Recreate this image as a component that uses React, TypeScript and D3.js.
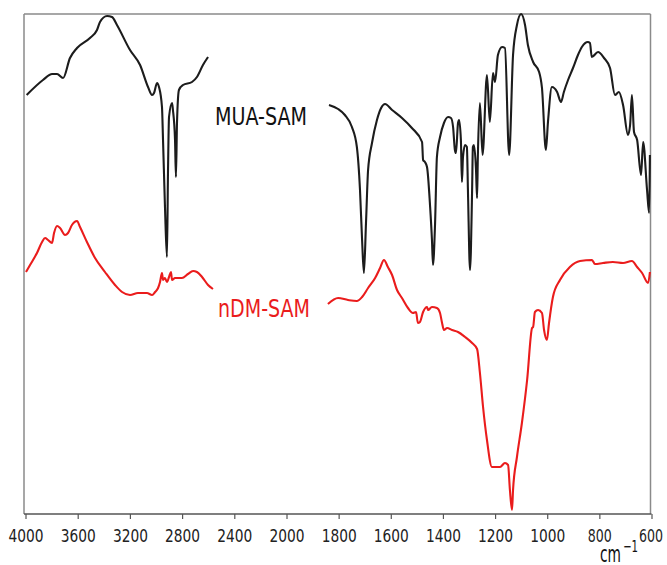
import React from "react";
import * as d3 from "d3";

// wavenumber (cm-1), transmittance (arb. %)
const muaHigh: [number, number][] = [
  [3995, 83.8], [3870, 86.8], [3800, 88.0], [3762, 88.0], [3716, 87.2], [3663, 91.2],
  [3609, 93.2], [3510, 95.2], [3456, 96.8], [3433, 98.4], [3379, 99.6], [3341, 99.4],
  [3303, 97.8], [3203, 92.8], [3126, 89.8], [3065, 85.4], [3034, 83.8], [3019, 84.2],
  [2996, 86.2], [2981, 85.4], [2958, 81.4], [2950, 74.8], [2935, 61.4], [2920, 51.4],
  [2912, 68.2], [2904, 79.4], [2881, 82.2], [2874, 80.8], [2858, 74.8], [2851, 67.4],
  [2843, 78.2], [2828, 84.8], [2797, 85.8], [2728, 86.4], [2690, 87.4], [2644, 89.8],
  [2605, 91.4],
];

const muaLow: [number, number][] = [
  [1839, 81.8], [1804, 81.0], [1778, 79.8], [1751, 77.4], [1732, 73.4], [1720, 64.8],
  [1712, 54.8], [1705, 48.2], [1697, 58.2], [1689, 68.8], [1674, 74.2], [1655, 78.8],
  [1639, 81.2], [1624, 82.0], [1597, 80.8], [1559, 79.2], [1521, 77.2], [1482, 74.4],
  [1478, 70.8], [1471, 70.4], [1463, 69.4], [1451, 61.4], [1444, 54.8], [1440, 49.8],
  [1432, 58.2], [1425, 71.4], [1413, 75.4], [1398, 78.2], [1382, 79.4], [1371, 79.2],
  [1363, 77.4], [1356, 72.8], [1352, 72.2], [1344, 78.2], [1340, 78.8], [1333, 74.8],
  [1329, 66.4], [1325, 71.4], [1317, 73.8], [1310, 73.4], [1306, 64.8], [1298, 48.8],
  [1290, 64.8], [1287, 73.4], [1283, 73.8], [1275, 68.8], [1271, 63.2], [1268, 71.4],
  [1260, 82.2], [1250, 71.8], [1233, 87.8], [1222, 78.4], [1210, 88.2], [1202, 86.4],
  [1191, 91.8], [1175, 93.4], [1164, 93.2], [1148, 71.8], [1133, 91.8], [1118, 97.8],
  [1102, 100.0], [1087, 97.8], [1076, 93.8], [1056, 90.4], [1033, 88.4], [1022, 85.2],
  [1007, 72.8], [999, 78.4], [984, 85.4], [964, 84.4], [949, 82.4], [938, 84.4],
  [922, 86.8], [903, 89.2], [884, 91.8], [869, 93.4], [846, 94.4], [838, 94.2],
  [831, 91.4], [807, 92.4], [784, 91.2], [761, 89.2], [742, 83.8], [727, 84.4],
  [711, 81.8], [692, 75.8], [684, 77.8], [677, 83.8], [669, 76.4], [657, 74.8],
  [642, 67.8], [634, 74.4], [619, 64.8], [611, 60.2], [608, 71.8],
];

const ndmHigh: [number, number][] = [
  [4000, 48.4], [3969, 49.8], [3916, 52.2], [3877, 54.4], [3854, 55.2], [3831, 54.8],
  [3801, 54.2], [3785, 56.2], [3762, 57.6], [3739, 57.2], [3701, 55.8], [3678, 56.2],
  [3648, 57.8], [3609, 58.6], [3586, 57.4], [3533, 54.4], [3471, 51.2], [3395, 48.4],
  [3318, 45.8], [3264, 44.4], [3203, 43.8], [3142, 44.2], [3073, 44.2], [3034, 43.8],
  [3011, 44.4], [2988, 45.2], [2973, 46.4], [2958, 48.2], [2950, 46.8], [2935, 47.2],
  [2920, 46.4], [2904, 47.4], [2889, 48.4], [2881, 46.8], [2858, 47.2], [2805, 47.2],
  [2759, 48.0], [2720, 48.6], [2690, 48.4], [2651, 47.4], [2605, 45.8], [2567, 45.0],
];

const ndmLow: [number, number][] = [
  [1843, 42.0], [1804, 43.2], [1766, 42.8], [1732, 42.6], [1712, 43.4], [1689, 45.2],
  [1662, 47.2], [1643, 49.2], [1628, 50.8], [1613, 49.4], [1597, 47.8], [1578, 44.8],
  [1559, 43.2], [1536, 41.2], [1517, 40.2], [1505, 40.4], [1498, 38.2], [1490, 38.4],
  [1478, 40.4], [1463, 41.4], [1459, 40.8], [1444, 41.4], [1425, 41.2], [1413, 40.2],
  [1406, 38.4], [1398, 36.8], [1386, 37.2], [1367, 36.8], [1344, 36.4], [1317, 35.4],
  [1290, 34.2], [1271, 33.0], [1260, 28.2], [1248, 21.4], [1233, 14.8], [1214, 9.4],
  [1183, 9.4], [1164, 10.2], [1152, 9.8], [1145, 4.8], [1137, 0.8], [1133, 4.8],
  [1118, 11.4], [1099, 18.2], [1079, 26.8], [1060, 37.2], [1056, 37.4], [1049, 40.4],
  [1037, 40.8], [1022, 40.2], [1014, 36.8], [1003, 34.8], [995, 38.2], [980, 43.4],
  [953, 46.8], [915, 49.4], [876, 50.6], [830, 50.8], [819, 50.0], [788, 50.2],
  [750, 50.4], [711, 50.2], [677, 50.6], [657, 49.4], [638, 48.2], [615, 46.2],
  [608, 48.4],
];

const xTicks = [4000, 3600, 3200, 2800, 2400, 2000, 1800, 1600, 1400, 1200, 1000, 800, 600];
const seriesNames = ["MUA-SAM", "nDM-SAM"];
const unitLabel = "cm";
const unitExp = "−1";

export default function App() {
  const W = 667, H = 565;
  const left = 24, right = 650.5, top = 14, bottom = 514;
  const x = d3.scaleLinear().domain([4000, 2000, 600]).range([26, 287, 652]);
  const y = d3.scaleLinear().domain([0, 100]).range([514, 14]);
  const line = d3
    .line<[number, number]>()
    .x((d) => x(d[0]))
    .y((d) => y(d[1]))
    .curve(d3.curveMonotoneX);
  const font = "'Liberation Sans Narrow', 'DejaVu Sans Condensed', 'Liberation Sans', Arial, sans-serif";
  const black = "#1c1c1c";
  const red = "#ea1c1c";
  return (
    <svg width={W} height={H} style={{ position: "absolute", left: 0, top: 0, background: "#fff" }}>
      <rect x={0} y={0} width={W} height={H} fill="#fff" />
      {/* frame */}
      <line x1={left} y1={top} x2={right} y2={top} stroke="#8a8a8a" strokeWidth={1.5} />
      <line x1={left} y1={top} x2={left} y2={bottom} stroke="#8a8a8a" strokeWidth={1.5} />
      <line x1={right} y1={top} x2={right} y2={bottom} stroke="#8a8a8a" strokeWidth={1.5} />
      <line x1={left} y1={bottom} x2={right + 1} y2={bottom} stroke="#555" strokeWidth={1.5} />
      {xTicks.map((t) => (
        <g key={t}>
          <line x1={x(t)} y1={bottom} x2={x(t)} y2={bottom + 5} stroke="#555" strokeWidth={1.2} />
          <text
            x={t === 600 ? x(t) - 1 : x(t)}
            y={542}
            textAnchor="middle"
            fontFamily={font}
            fontSize={18}
            fill="#222"
            textLength={t >= 1000 ? 35 : 24}
            lengthAdjust="spacingAndGlyphs"
          >
            {t}
          </text>
        </g>
      ))}
      {/* curves */}
      <path d={line(muaHigh) || ""} fill="none" stroke={black} strokeWidth={2.1} strokeLinejoin="round" />
      <path d={line(muaLow) || ""} fill="none" stroke={black} strokeWidth={2.1} strokeLinejoin="round" />
      <path d={line(ndmHigh) || ""} fill="none" stroke={red} strokeWidth={2.1} strokeLinejoin="round" />
      <path d={line(ndmLow) || ""} fill="none" stroke={red} strokeWidth={2.1} strokeLinejoin="round" />
      {/* labels */}
      <text x={215} y={125} fontFamily={font} fontSize={24} fill="#111" textLength={92} lengthAdjust="spacingAndGlyphs">
        {seriesNames[0]}
      </text>
      <text x={218} y={317} fontFamily={font} fontSize={24} fill={red} textLength={92} lengthAdjust="spacingAndGlyphs">
        {seriesNames[1]}
      </text>
      <text x={600} y={562} fontFamily={font} fontSize={23} fill="#111" textLength={21} lengthAdjust="spacingAndGlyphs">
        {unitLabel}
      </text>
      <text x={623} y={552} fontFamily={font} fontSize={16} fill="#111" textLength={15} lengthAdjust="spacingAndGlyphs">
        {unitExp}
      </text>
    </svg>
  );
}
